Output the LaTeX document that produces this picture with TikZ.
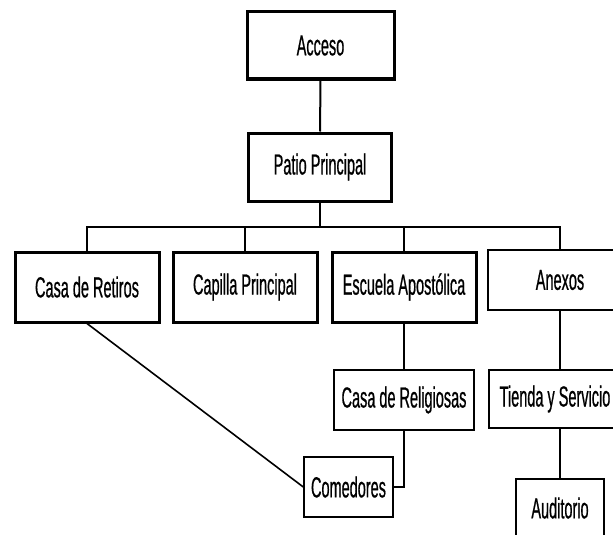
\documentclass[tikz,border=0pt]{standalone}
\usepackage{fontspec}
\setmainfont[FakeStretch=0.5,FakeBold=0.6]{Liberation Sans}

\begin{document}
\begin{tikzpicture}
  [x=1pt,y=-1pt,every node/.style={draw,rectangle,inner sep=0pt,font=\fontsize{29}{32}\selectfont},
   heavy/.style={line width=3pt},light/.style={line width=1.4pt}]
  \clip (0,0) rectangle (613,535);
  \node[heavy,minimum width=147pt,minimum height=67pt] (1) at (320.5,45.5) {Acceso};
  \node[heavy,minimum width=143pt,minimum height=68pt] (2) at (320,167) {Patio Principal};
  \node[heavy,minimum width=144pt,minimum height=70pt] (3) at (87,287) {Casa de Retiros};
  \node[heavy,minimum width=144pt,minimum height=70pt] (4) at (245,287) {Capilla Principal};
  \node[heavy,minimum width=144pt,minimum height=70pt] (5) at (404,287) {Escuela Apostólica};
  \node[light,minimum width=144pt,minimum height=60pt] (6) at (560,280) {Anexos};
  \node[light,minimum width=140pt,minimum height=60pt] (7) at (404,400) {Casa de Religiosas};
  \node[light,minimum width=132pt,minimum height=58pt] (8) at (555,399) {Tienda y Servicio};
  \node[light,minimum width=89pt,minimum height=60pt] (9) at (348.5,487) {Comedores};
  \node[light,minimum width=88pt,minimum height=58pt] (10) at (560,508) {Auditorio};
  \coordinate (bus) at (320,227);

  \draw[line width=2pt] (2) -- (bus);
  \foreach \n in {3,4,5,6}
    \draw[line width=2pt] (\n) |- (bus);
  \foreach \from/\to in {1/2,5/7}
    \draw[line width=2pt] (\from) -- (\to);
  \draw[line width=2pt] (6.south) -- (6.south |- 8.north);
  \draw[line width=2pt] (10.north |- 8.south) -- (10.north);
  \draw[line width=2pt] (7) |- (9);
  \draw[line width=1.6pt] (3.south) -- (9.west);

\end{tikzpicture}
\end{document}
